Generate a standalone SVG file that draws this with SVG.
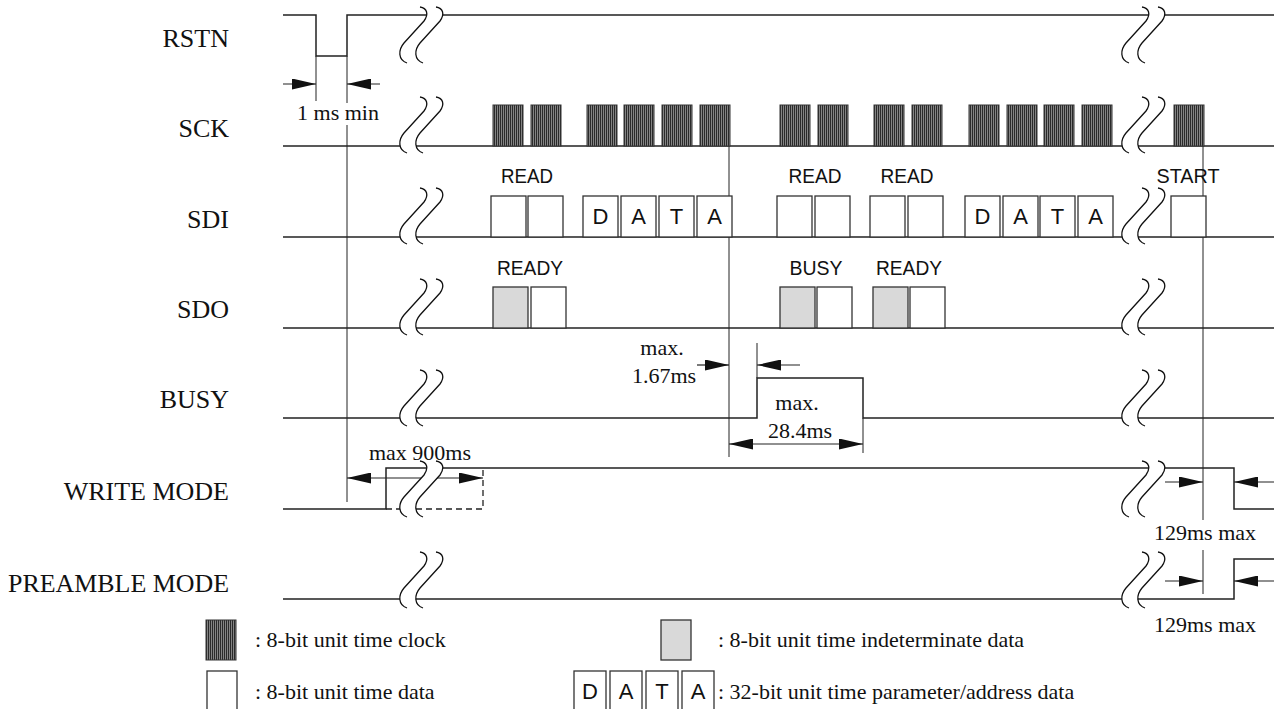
<svg xmlns="http://www.w3.org/2000/svg" width="1274" height="709" viewBox="0 0 1274 709">
<style>
.ln{fill:none;stroke:#222;stroke-width:1.5}
.th{fill:none;stroke:#222;stroke-width:1}
.dash{fill:none;stroke:#222;stroke-width:1.3;stroke-dasharray:6 4}
.bx{fill:#fff;stroke:#333;stroke-width:1.3}
.gb{fill:#d9d9d9;stroke:#333;stroke-width:1.3}
.ck{fill:url(#clk);stroke:#333;stroke-width:1}
.lab{font-family:"Liberation Serif",serif;font-size:26px;fill:#111;text-anchor:end}
.t{font-family:"Liberation Serif",serif;font-size:22px;fill:#111}
.m{text-anchor:middle}
.s{font-family:"Liberation Sans",sans-serif;font-size:21px;fill:#111;text-anchor:middle}
.bl{font-family:"Liberation Sans",sans-serif;font-size:22px;fill:#111;text-anchor:middle}
.ar{fill:none;stroke:#222;stroke-width:1.2;marker-end:url(#ah)}
.ar2{fill:none;stroke:#222;stroke-width:1.2;marker-end:url(#ah);marker-start:url(#ahs)}
</style>
<defs>
<pattern id="clk" width="2" height="10" patternUnits="userSpaceOnUse">
<rect width="2" height="10" fill="#9a9a9a"/>
<rect width="1.2" height="10" fill="#2a2a2a"/>
</pattern>
<marker id="ah" viewBox="0 0 24 11" refX="24" refY="5.5" markerWidth="24" markerHeight="11" markerUnits="userSpaceOnUse" orient="auto">
<path d="M0,0 L24,5.5 L0,11 Z" fill="#111"/>
</marker>
<marker id="ahs" viewBox="0 0 24 11" refX="24" refY="5.5" markerWidth="24" markerHeight="11" markerUnits="userSpaceOnUse" orient="auto-start-reverse">
<path d="M0,0 L24,5.5 L0,11 Z" fill="#111"/>
</marker>
<g id="brk">
<path d="M22 0 C29 1 31 7 26 14 L6 36 C0 43 0 53 9 56 L25 56 C16 53 16 43 22 36 L42 14 C47 7 45 1 38 0 Z" fill="#fff"/>
<path d="M22 0 C29 1 31 7 26 14 L6 36 C0 43 0 53 9 56" fill="none" stroke="#111" stroke-width="1.3"/>
<path d="M38 0 C45 1 47 7 42 14 L22 36 C16 43 16 53 25 56" fill="none" stroke="#111" stroke-width="1.3"/>
</g>
</defs>
<rect width="1274" height="709" fill="#fff"/>

<g id="labels">
<text class="lab" x="229" y="47">RSTN</text>
<text class="lab" x="229" y="137">SCK</text>
<text class="lab" x="229" y="228">SDI</text>
<text class="lab" x="229" y="318">SDO</text>
<text class="lab" x="229" y="408">BUSY</text>
<text class="lab" x="229" y="500">WRITE MODE</text>
<text class="lab" x="229" y="592" textLength="221" lengthAdjust="spacingAndGlyphs">PREAMBLE MODE</text>
</g>

<g id="connectors">
<line class="th" x1="316" y1="56" x2="316" y2="101"/>
<line class="th" x1="347" y1="56" x2="347" y2="502"/>
<line class="th" x1="729" y1="146" x2="729" y2="457"/>
<line class="th" x1="757" y1="343" x2="757" y2="378"/>
<line class="th" x1="863" y1="418" x2="863" y2="453"/>
<line class="th" x1="1203" y1="146" x2="1203" y2="520"/>
<line class="th" x1="1203" y1="550" x2="1203" y2="594"/>
<path class="ar" d="M283 84 H316"/>
<path class="ar" d="M380 84 H347"/>
<path class="ar" d="M697 365 H729"/>
<path class="ar" d="M800 365 H757"/>
<path class="ar2" d="M729 444 H863"/>
<path class="ar2" d="M347 478 H483"/>
<path class="ar" d="M1165 482 H1203"/>
<path class="ar" d="M1274 482 H1234"/>
<path class="ar" d="M1165 581 H1203"/>
<path class="ar" d="M1274 581 H1234"/>
</g>

<g id="sig-rstn">
<path class="ln" d="M283 15 H316 V56 H347 V15 H1274"/>
</g>

<g id="sig-sck">
<path class="ln" d="M283 146 H1274"/>
<rect class="ck" x="493" y="105" width="30" height="41"/>
<rect class="ck" x="531" y="105" width="30" height="41"/>
<rect class="ck" x="587" y="105" width="30" height="41"/>
<rect class="ck" x="624" y="105" width="30" height="41"/>
<rect class="ck" x="662" y="105" width="30" height="41"/>
<rect class="ck" x="700" y="105" width="30" height="41"/>
<rect class="ck" x="780" y="105" width="30" height="41"/>
<rect class="ck" x="818" y="105" width="30" height="41"/>
<rect class="ck" x="874" y="105" width="30" height="41"/>
<rect class="ck" x="912" y="105" width="30" height="41"/>
<rect class="ck" x="969" y="105" width="30" height="41"/>
<rect class="ck" x="1007" y="105" width="30" height="41"/>
<rect class="ck" x="1044" y="105" width="30" height="41"/>
<rect class="ck" x="1082" y="105" width="30" height="41"/>
<rect class="ck" x="1174" y="105" width="30" height="41"/>
</g>

<g id="sig-sdi">
<path class="ln" d="M283 237 H1274"/>
<text class="s" x="527" y="183" textLength="52" lengthAdjust="spacingAndGlyphs">READ</text>
<rect class="bx" x="491" y="196" width="35" height="41"/>
<rect class="bx" x="528" y="196" width="35" height="41"/>
<rect class="bx" x="583" y="196" width="35" height="41"/>
<rect class="bx" x="621" y="196" width="35" height="41"/>
<rect class="bx" x="659" y="196" width="35" height="41"/>
<rect class="bx" x="697" y="196" width="35" height="41"/>
<text class="bl" x="600.5" y="224">D</text>
<text class="bl" x="638.5" y="224">A</text>
<text class="bl" x="676.5" y="224">T</text>
<text class="bl" x="714.5" y="224">A</text>
<text class="s" x="815" y="183" textLength="53" lengthAdjust="spacingAndGlyphs">READ</text>
<rect class="bx" x="777" y="196" width="35" height="41"/>
<rect class="bx" x="815" y="196" width="35" height="41"/>
<text class="s" x="907" y="183" textLength="53" lengthAdjust="spacingAndGlyphs">READ</text>
<rect class="bx" x="870" y="196" width="35" height="41"/>
<rect class="bx" x="908" y="196" width="35" height="41"/>
<rect class="bx" x="965" y="196" width="35" height="41"/>
<rect class="bx" x="1003" y="196" width="35" height="41"/>
<rect class="bx" x="1040" y="196" width="35" height="41"/>
<rect class="bx" x="1078" y="196" width="35" height="41"/>
<text class="bl" x="982.5" y="224">D</text>
<text class="bl" x="1020.5" y="224">A</text>
<text class="bl" x="1057.5" y="224">T</text>
<text class="bl" x="1095.5" y="224">A</text>
<text class="s" x="1188" y="183" textLength="63" lengthAdjust="spacingAndGlyphs">START</text>
<rect class="bx" x="1171" y="196" width="35" height="41"/>
</g>

<g id="sig-sdo">
<path class="ln" d="M283 328 H1274"/>
<text class="s" x="530" y="275" textLength="66" lengthAdjust="spacingAndGlyphs">READY</text>
<rect class="gb" x="493" y="287" width="35" height="41"/>
<rect class="bx" x="531" y="287" width="35" height="41"/>
<text class="s" x="816" y="275" textLength="53" lengthAdjust="spacingAndGlyphs">BUSY</text>
<rect class="gb" x="780" y="287" width="35" height="41"/>
<rect class="bx" x="817" y="287" width="35" height="41"/>
<text class="s" x="909" y="275" textLength="66" lengthAdjust="spacingAndGlyphs">READY</text>
<rect class="gb" x="873" y="287" width="35" height="41"/>
<rect class="bx" x="910" y="287" width="35" height="41"/>
</g>

<g id="sig-busy">
<path class="ln" d="M283 418 H757 V378 H863 V418 H1274"/>
</g>

<g id="sig-write">
<path class="dash" d="M386 509 H483 V468"/>
<path class="ln" d="M283 509 H386 V468 H1234 V509 H1274"/>
</g>

<g id="sig-preamble">
<path class="ln" d="M283 599 H1234 V559 H1274"/>
</g>

<g id="breaks">
<use href="#brk" x="398" y="7"/>
<use href="#brk" x="398" y="97"/>
<use href="#brk" x="398" y="188"/>
<use href="#brk" x="398" y="279"/>
<use href="#brk" x="398" y="370"/>
<use href="#brk" x="398" y="461"/>
<use href="#brk" x="398" y="552"/>
<use href="#brk" x="1120" y="7"/>
<use href="#brk" x="1120" y="97"/>
<use href="#brk" x="1120" y="188"/>
<use href="#brk" x="1120" y="279"/>
<use href="#brk" x="1120" y="370"/>
<use href="#brk" x="1120" y="461"/>
<use href="#brk" x="1120" y="552"/>
</g>

<g id="annotations">
<rect x="294" y="103" width="88" height="22" fill="#fff"/>
<text class="t m" x="338" y="120">1 ms min</text>
<text class="t m" x="662" y="355">max.</text>
<text class="t m" x="664" y="383">1.67ms</text>
<text class="t m" x="797" y="410">max.</text>
<text class="t m" x="800" y="438">28.4ms</text>
<text class="t m" x="420" y="460">max 900ms</text>
<text class="t m" x="1205" y="540">129ms max</text>
<text class="t m" x="1205" y="632">129ms max</text>
</g>

<g id="legend">
<rect class="ck" x="206" y="620" width="30" height="40"/>
<text class="t" x="255" y="647">: 8-bit unit time clock</text>
<rect class="gb" x="661" y="620" width="30" height="40"/>
<text class="t" x="718" y="647">: 8-bit unit time indeterminate data</text>
<rect class="bx" x="207" y="671" width="30" height="41"/>
<text class="t" x="255" y="699">: 8-bit unit time data</text>
<rect class="bx" x="574" y="671" width="32" height="41"/>
<rect class="bx" x="610" y="671" width="32" height="41"/>
<rect class="bx" x="646" y="671" width="32" height="41"/>
<rect class="bx" x="682" y="671" width="32" height="41"/>
<text class="bl" x="590" y="699">D</text>
<text class="bl" x="626" y="699">A</text>
<text class="bl" x="662" y="699">T</text>
<text class="bl" x="698" y="699">A</text>
<text class="t" x="718" y="699">: 32-bit unit time parameter/address data</text>
</g>
</svg>
